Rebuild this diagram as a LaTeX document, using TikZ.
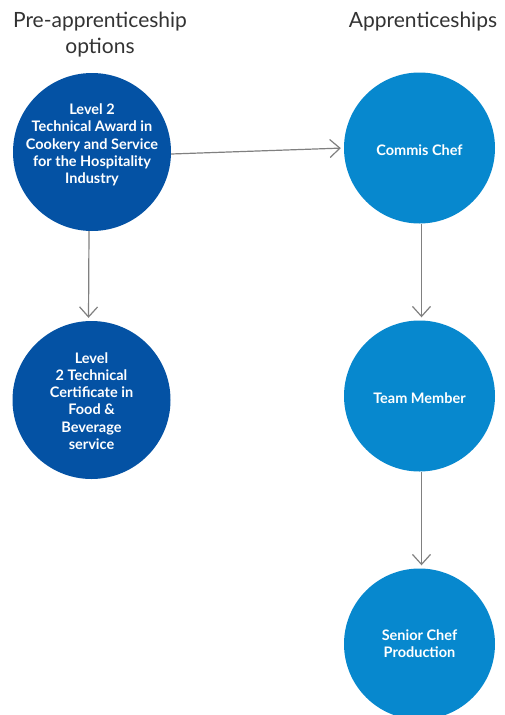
\documentclass[tikz,border=0pt]{standalone}
\usepackage{fontspec}
\setmainfont{Lato}
\usetikzlibrary{arrows.meta}
\definecolor{darkblue}{HTML}{0452A4}
\definecolor{lightblue}{HTML}{0788CE}
\definecolor{headgray}{HTML}{333333}
\definecolor{arrowgray}{HTML}{808080}
\tikzset{
  bubble/.style={circle, inner sep=0pt, draw=none},
  darkbubble/.style={bubble, fill=darkblue, minimum size=158pt},
  lightbubble/.style={bubble, fill=lightblue, minimum size=151pt},
  bubbletext/.style={text=white, font=\bfseries\fontsize{14.5}{17.2}\selectfont, align=center},
  heading/.style={text=headgray, font=\fontsize{21}{26}\selectfont, align=center},
  flow/.style={draw=arrowgray, line width=1.2pt, -{Straight Barb[length=10pt,width=18pt,line width=1.2pt]}, shorten >=3pt}
}
\begin{document}
\begin{tikzpicture}[x=1pt,y=-1pt]
\useasboundingbox (0,0) rectangle (504,715);
\clip (0,0) rectangle (504,715);
\fill[white] (0,0) rectangle (504,715);
\node[heading] (h1) at (100,35) {Pre-apprenticeship\\options};
\node[heading] (h2) at (423,22) {Apprenticeships};
\node[darkbubble] (c1) at (92,152) {};
\node[darkbubble] (c2) at (91.5,400) {};
\node[lightbubble] (a1) at (419.5,148) {};
\node[lightbubble] (a2) at (419.5,396) {};
\node[lightbubble] (a3) at (419.5,644) {};
\node[bubbletext] (t1) at (92,145) {Level 2\\Technical Award in\\Cookery and Service\\for the Hospitality\\Industry};
\node[bubbletext] (t2) at (91.5,401) {Level\\2 Technical\\Certificate in\\Food \&\\Beverage\\service};
\node[bubbletext] (t3) at (419.5,150) {Commis Chef};
\node[bubbletext] (t4) at (419.5,398) {Team Member};
\node[bubbletext] (t5) at (419.5,644) {Senior Chef\\Production};
\draw[flow] ([yshift=-2pt]c1.east) -- (a1.west);
\draw[flow] ([xshift=-3pt]c1.south) -- ([xshift=-3pt]c2.north);
\draw[flow] ([xshift=2pt]a1.south) -- ([xshift=2pt]a2.north);
\draw[flow] ([xshift=2pt]a2.south) -- ([xshift=2pt]a3.north);
\end{tikzpicture}
\end{document}
